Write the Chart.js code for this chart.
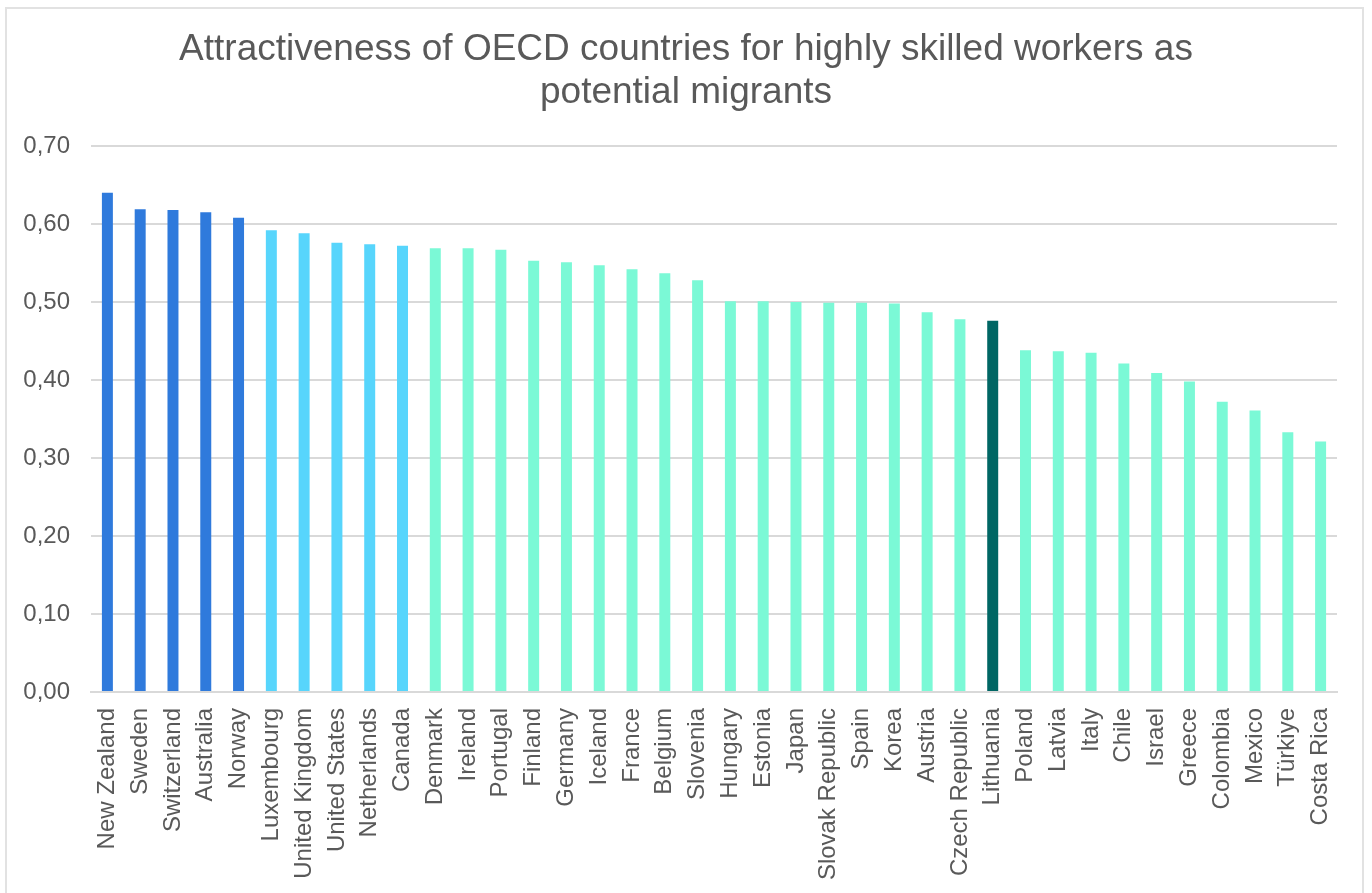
<!DOCTYPE html>
<html>
<head>
<meta charset="utf-8">
<script src="https://cdn.jsdelivr.net/npm/chart.js@4/dist/chart.umd.min.js"></script>
<style>
  html, body { margin: 0; padding: 0; background: #fff; }
  #wrap { position: relative; width: 1372px; height: 893px; overflow: hidden; }
  #frame { position: absolute; left: 5px; top: 7px; width: 1359px; height: 900px; border: 2px solid #e2e2e2; box-sizing: border-box; pointer-events: none; }
  canvas { position: absolute; left: 0; top: 0; }
</style>
</head>
<body>
<div id="wrap">
  <canvas id="c" width="1372" height="893"></canvas>
  <div id="frame"></div>
</div>
<script>
const countries = ["New Zealand","Sweden","Switzerland","Australia","Norway","Luxembourg","United Kingdom","United States","Netherlands","Canada","Denmark","Ireland","Portugal","Finland","Germany","Iceland","France","Belgium","Slovenia","Hungary","Estonia","Japan","Slovak Republic","Spain","Korea","Austria","Czech Republic","Lithuania","Poland","Latvia","Italy","Chile","Israel","Greece","Colombia","Mexico","Türkiye","Costa Rica"];
const scores = [0.640,0.619,0.618,0.615,0.608,0.592,0.588,0.576,0.574,0.572,0.569,0.569,0.567,0.553,0.551,0.547,0.542,0.537,0.528,0.501,0.501,0.500,0.499,0.499,0.498,0.487,0.478,0.476,0.438,0.437,0.435,0.421,0.409,0.398,0.372,0.361,0.333,0.321];
const titleLines = ["Attractiveness of OECD countries for highly skilled workers as", "potential migrants"];
const yMax = 0.70, yStep = 0.10;

const FONT = "'Liberation Sans', Arial, sans-serif";
const GREY = '#595959';

function barColor(ctx) {
  const i = ctx.dataIndex;
  if (countries[i] === 'Lithuania') return '#006664';
  if (i < 5) return '#2F7ADC';
  if (i < 10) return '#57D5FC';
  return '#7BF9D6';
}

// Title centred on the whole canvas (as in the reference)
const centeredTitle = {
  id: 'centeredTitle',
  afterDraw(chart) {
    const ctx = chart.ctx;
    ctx.save();
    ctx.font = "37px " + FONT;
    ctx.fillStyle = GREY;
    ctx.textAlign = 'center';
    ctx.textBaseline = 'middle';
    const lh = 43, top = 28;
    titleLines.forEach((t, i) => ctx.fillText(t, chart.width / 2, top + lh / 2 + i * lh));
    ctx.restore();
  }
};

new Chart(document.getElementById('c'), {
  type: 'bar',
  data: {
    labels: countries,
    datasets: [{ data: scores, backgroundColor: barColor, borderWidth: 0, barPercentage: 0.335, categoryPercentage: 1 }]
  },
  plugins: [centeredTitle],
  options: {
    responsive: false,
    animation: false,
    layout: { padding: { top: 146, right: 35, bottom: 0, left: 0 } },
    plugins: {
      legend: { display: false },
      tooltip: { enabled: false },
      title: { display: false }
    },
    scales: {
      x: {
        grid: { display: false, drawTicks: false },
        border: { display: true, color: '#d9d9d9', width: 2 },
        ticks: { color: GREY, font: { family: FONT, size: 24 }, minRotation: 90, maxRotation: 90, autoSkip: false, padding: 16 },
        afterFit: (s) => { s.height = 201; }
      },
      y: {
        min: 0, max: yMax,
        grid: { color: '#d9d9d9', lineWidth: 2, drawTicks: false },
        border: { display: false },
        ticks: {
          stepSize: yStep,
          color: GREY,
          font: { family: FONT, size: 24 },
          padding: 21,
          callback: (v) => v.toFixed(2).replace('.', ',')
        },
        afterFit: (s) => { s.width = 91; }
      }
    }
  }
});
</script>
</body>
</html>
